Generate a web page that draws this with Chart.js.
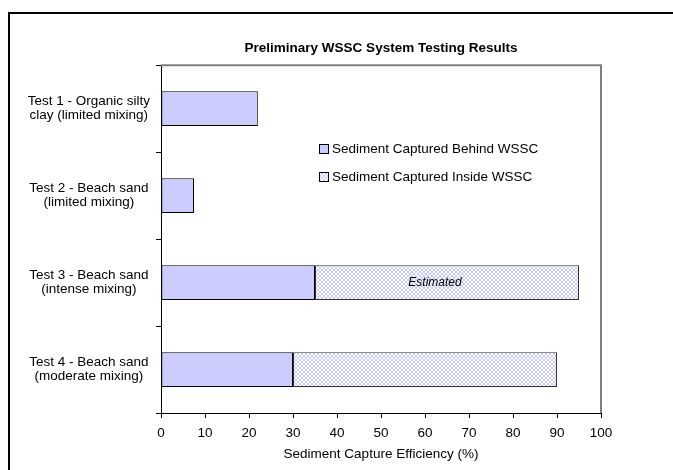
<!DOCTYPE html>
<html>
<head>
<meta charset="utf-8">
<script src="https://cdn.jsdelivr.net/npm/chart.js@4.4.1/dist/chart.umd.min.js"></script>
<style>
  html, body { margin: 0; padding: 0; background: #fff; overflow: hidden; }
  canvas { display: block; }
</style>
</head>
<body>
<canvas id="chart" width="673" height="470"></canvas>
<script>
const categories = [
  ['Test 1 - Organic silty', 'clay (limited mixing)'],
  ['Test 2 - Beach sand', '(limited mixing)'],
  ['Test 3 - Beach sand', '(intense mixing)'],
  ['Test 4 - Beach sand', '(moderate mixing)']
];
const behind = [22, 7.5, 35, 30];
const inside = [null, null, 60, 60];
const notes = [null, null, 'Estimated', null];
const seriesNames = ['Sediment Captured Behind WSSC', 'Sediment Captured Inside WSSC'];

const lavender = '#ccccff';
const font = 'Liberation Sans, Arial, sans-serif';

// small crosshatch tile for the "inside" series
function hatch() {
  const c = document.createElement('canvas');
  c.width = 4; c.height = 4;
  const g = c.getContext('2d');
  g.fillStyle = '#ffffff';
  g.fillRect(0, 0, 4, 4);
  g.fillStyle = '#cacaf6';
  for (let i = 0; i < 4; i++) {
    g.fillRect(i, i, 1, 1);
    g.fillRect(3 - i, i, 1, 1);
  }
  return g.createPattern(c, 'repeat');
}
const hatchFill = hatch();

const frame = {
  id: 'frame',
  beforeDraw(chart) {
    const ctx = chart.ctx;
    ctx.save();
    ctx.strokeStyle = '#000';
    ctx.lineWidth = 2;
    ctx.beginPath();
    ctx.moveTo(9, chart.height + 5);
    ctx.lineTo(9, 13);
    ctx.lineTo(chart.width + 5, 13);
    ctx.stroke();
    ctx.restore();
  },
  afterDraw(chart) {
    const ctx = chart.ctx;
    const a = chart.chartArea;
    ctx.save();
    // grey plot border top + right
    ctx.strokeStyle = '#808080';
    ctx.lineWidth = 2;
    ctx.beginPath();
    ctx.moveTo(a.left, a.top);
    ctx.lineTo(a.right, a.top);
    ctx.lineTo(a.right, a.bottom);
    ctx.stroke();

    // legend
    ctx.font = '13.5px ' + font;
    ctx.textBaseline = 'middle';
    ctx.textAlign = 'left';
    chart.data.datasets.forEach((ds, i) => {
      const y = 149 + i * 28;
      ctx.fillStyle = ds.backgroundColor;
      ctx.fillRect(319.5, y - 4.5, 9, 9);
      ctx.strokeStyle = '#000';
      ctx.lineWidth = 1;
      ctx.strokeRect(319.5, y - 4.5, 9, 9);
      ctx.fillStyle = '#000';
      ctx.fillText(ds.label, 332, y + 0.5);
    });

    // note inside bar, a little left of the segment centre
    const meta = chart.getDatasetMeta(1);
    ctx.font = 'italic 12px ' + font;
    ctx.textAlign = 'center';
    notes.forEach((n, i) => {
      if (!n) return;
      const p = meta.data[i].getProps(['x', 'y', 'base']);
      ctx.fillStyle = '#000';
      ctx.fillText(n, (p.x + p.base) / 2 - 12, p.y);
    });
    ctx.restore();
  }
};

new Chart(document.getElementById('chart'), {
  type: 'bar',
  data: {
    labels: categories,
    datasets: [
      {
        label: seriesNames[0],
        data: behind,
        backgroundColor: lavender,
        borderColor: '#000',
        borderWidth: 1,
        borderSkipped: false,
        categoryPercentage: 0.4,
        barPercentage: 1
      },
      {
        label: seriesNames[1],
        data: inside,
        backgroundColor: hatchFill,
        borderColor: '#333',
        borderWidth: 1,
        borderSkipped: false,
        categoryPercentage: 0.4,
        barPercentage: 1
      }
    ]
  },
  options: {
    indexAxis: 'y',
    responsive: false,
    animation: false,
    layout: { padding: { left: 0, right: 72, top: 0, bottom: 0 } },
    plugins: {
      legend: { display: false },
      tooltip: { enabled: false },
      title: {
        display: true,
        text: 'Preliminary WSSC System Testing Results',
        fullSize: false,
        color: '#000',
        font: { family: font, size: 13.5, weight: 'bold', lineHeight: 1.2 },
        padding: { top: 40, bottom: 9 }
      }
    },
    scales: {
      x: {
        stacked: true,
        min: 0,
        max: 100,
        afterFit(scale) { scale.height = 57; },
        ticks: {
          stepSize: 10,
          color: '#000',
          padding: 7.5,
          font: { family: font, size: 13.5 }
        },
        grid: {
          drawOnChartArea: false,
          color: '#000',
          tickLength: 5
        },
        border: { color: '#000', width: 1 },
        title: {
          display: true,
          text: 'Sediment Capture Efficiency (%)',
          color: '#000',
          font: { family: font, size: 13.5 },
          padding: { top: 0, bottom: 8 }
        }
      },
      y: {
        stacked: true,
        afterFit(scale) { scale.width = 161; },
        ticks: {
          color: '#000',
          crossAlign: 'center',
          padding: 6,
          font: { family: font, size: 13.5, lineHeight: 1.04 }
        },
        grid: {
          drawOnChartArea: false,
          color: '#000',
          tickLength: 5
        },
        border: { color: '#000', width: 1 }
      }
    }
  },
  plugins: [frame]
});
</script>
</body>
</html>
